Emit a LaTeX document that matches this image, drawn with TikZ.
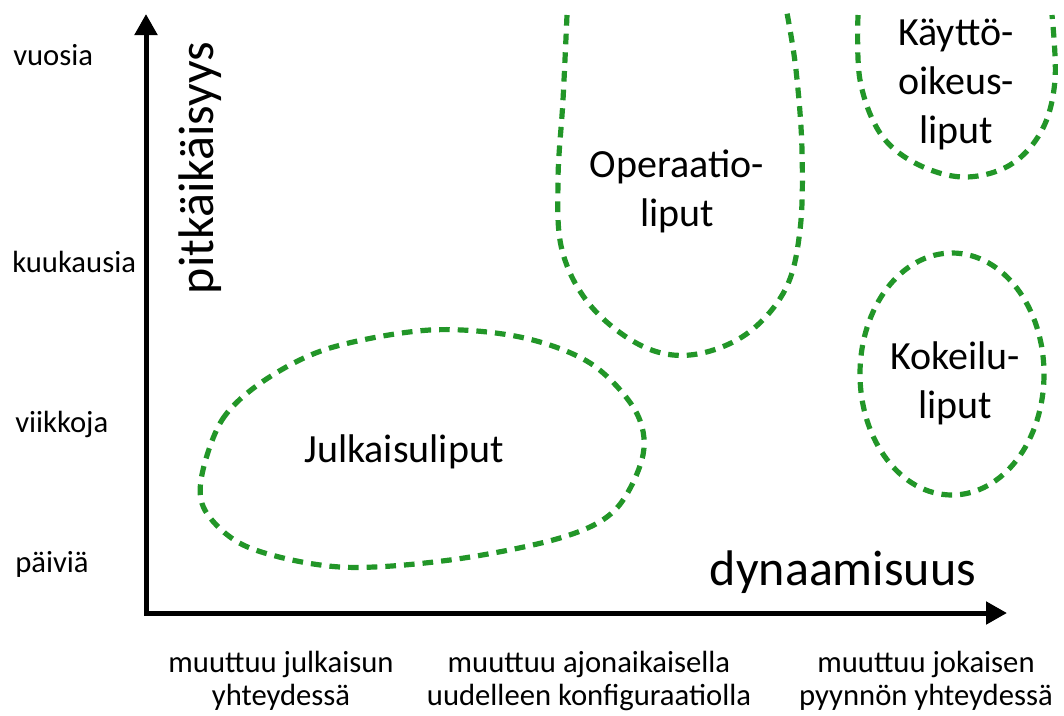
\documentclass[tikz,border=0pt]{standalone}
\usepackage{fontspec}
\setmainfont{Carlito}
\usetikzlibrary{arrows.meta}
\definecolor{flaggreen}{RGB}{34,150,40}
\begin{document}
\begin{tikzpicture}[x=0.75pt,y=-0.75pt,
  axis/.style={line width=3.75pt,-{Triangle[width=16.5pt,length=15.75pt]}},
  region/.style={draw=flaggreen,line width=3.9pt,dash pattern=on 8pt off 6pt},
  small/.style={font=\fontsize{23}{24.75}\selectfont, inner sep=0pt},
  big/.style={font=\fontsize{37.5}{40}\selectfont, inner sep=0pt},
  lbl/.style={font=\fontsize{30}{36.75}\selectfont, inner sep=0pt},
]
\useasboundingbox (0,0) rectangle (1064,715);
% axes
\coordinate (O) at (146,613);
\coordinate (ytip) at (146,14);
\coordinate (xtip) at (1007,613);
\draw[axis] ([yshift=-1.875pt]O) -- (ytip);
\draw[axis] (O) -- (xtip);
% axis labels
\node[small,anchor=base west] (vuosia) at (13,65) {vuosia};
\node[small,anchor=base west] (kuukausia) at (12,272) {kuukausia};
\node[small,anchor=base west] (viikkoja) at (15,432) {viikkoja};
\node[small,anchor=base west] (paivia) at (15,572) {päiviä};
\node[big,rotate=90,anchor=base] (pitk) at (213,168) {pitkäikäisyys};
\node[big,anchor=base] (dyn) at (843,585) {dynaamisuus};
\node[small,anchor=base] (c1) at (281,672) {\begin{tabular}[t]{@{}c@{}}muuttuu julkaisun\\yhteydessä\end{tabular}};
\node[small,anchor=base] (c2) at (589,672) {\begin{tabular}[t]{@{}c@{}}muuttuu ajonaikaisella\\uudelleen konfiguraatiolla\end{tabular}};
\node[small,anchor=base] (c3) at (926,672) {\begin{tabular}[t]{@{}c@{}}muuttuu jokaisen\\pyynnön yhteydessä\end{tabular}};
% regions
\draw[region] plot[smooth cycle, tension=0.55] coordinates {(201,480) (222,420) (265,380) (330,348) (430,330) (520,337) (590,363) (635,410) (643,455) (615,510) (560,538) (450,560) (340,567) (250,548) (208,515)};
\draw[region] plot[smooth, tension=0.6] coordinates {(567,15) (563,100) (558,180) (562,250) (590,305) (640,345) (690,355) (745,335) (785,290) (800,230) (802,150) (796,70) (787,13)};
\draw[region] plot[smooth, tension=0.6] coordinates {(858,15) (860,80) (880,133) (915,163) (963,177) (1010,165) (1042,130) (1055,80) (1052,15)};
\draw[region] (952,374) ellipse [x radius=92, y radius=121];
% region labels
\node[lbl,anchor=base] (julk) at (404,462) {Julkaisuliput};
\node[lbl,anchor=base] (oper) at (677,177) {\begin{tabular}[t]{@{}c@{}}Operaatio-\\liput\end{tabular}};
\node[lbl,anchor=base] (kaytto) at (956,45) {\begin{tabular}[t]{@{}c@{}}Käyttö-\\oikeus-\\liput\end{tabular}};
\node[lbl,anchor=base] (kokeilu) at (955,369) {\begin{tabular}[t]{@{}c@{}}Kokeilu-\\liput\end{tabular}};
\end{tikzpicture}
\end{document}
